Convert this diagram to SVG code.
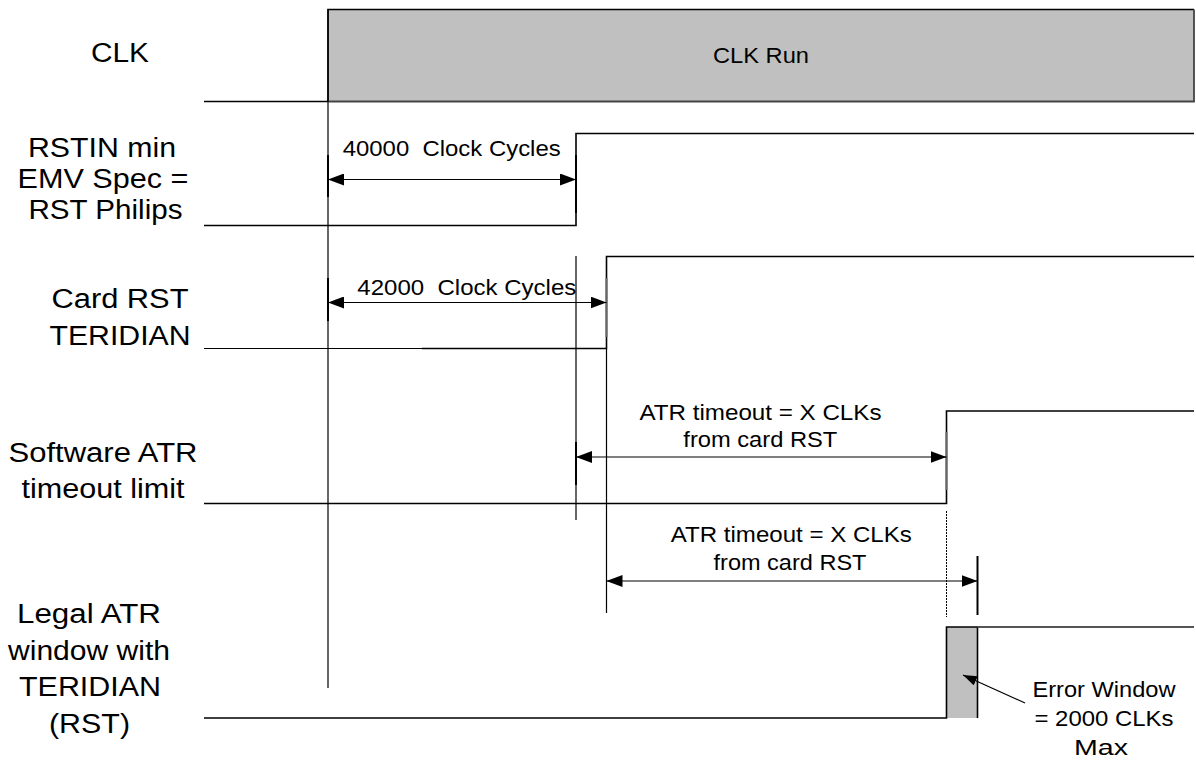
<svg xmlns="http://www.w3.org/2000/svg" width="1196" height="762" viewBox="0 0 1196 762">
  <style>
    .label { font-family: "Liberation Sans", Arial, sans-serif; font-size: 27px; fill: #000; text-anchor: middle; }
    .note { font-family: "Liberation Sans", Arial, sans-serif; font-size: 22px; fill: #000; white-space: pre; }
    .notec { font-family: "Liberation Sans", Arial, sans-serif; font-size: 22px; fill: #000; text-anchor: middle; }
    .sig { fill: none; stroke: #000; stroke-width: 1.6; }
    .guide { fill: none; stroke: #000; stroke-width: 1.2; }
    .tick { fill: none; stroke: #000; stroke-width: 2; }
    .dim { fill: none; stroke: #000; stroke-width: 1.2; marker-start: url(#head); marker-end: url(#head); }
    .busy { fill: #c0c0c0; }
  </style>
  <defs>
    <marker id="head" viewBox="0 0 16 12" markerWidth="16" markerHeight="12" refX="16" refY="6" orient="auto-start-reverse" markerUnits="userSpaceOnUse">
      <path d="M0,0 L16,6 L0,12 z" fill="#000"/>
    </marker>
    <marker id="ptr" viewBox="0 0 14 10" markerWidth="14" markerHeight="10" refX="14" refY="5" orient="auto" markerUnits="userSpaceOnUse">
      <path d="M0,0 L14,5 L0,10 z" fill="#000"/>
    </marker>
  </defs>

  <rect width="1196" height="762" fill="#fff"/>

  <!-- CLK -->
  <g id="clk">
    <text class="label" x="120" y="62" textLength="58" lengthAdjust="spacingAndGlyphs">CLK</text>
    <rect class="busy" x="328" y="9.5" width="866" height="92"/>
    <path d="M328,101.5 V9.5 H1194" stroke="#000" stroke-width="1.6" fill="none"/>
    <path d="M1194,9.5 V101.5 H328" stroke="#444" stroke-width="1.8" fill="none"/>
    <line x1="204" y1="101.5" x2="328" y2="101.5" class="sig"/>
    <text class="notec" x="761" y="63" textLength="96" lengthAdjust="spacingAndGlyphs">CLK Run</text>
  </g>

  <!-- RSTIN -->
  <g id="rstin">
    <text class="label" x="102" y="157" textLength="148" lengthAdjust="spacingAndGlyphs">RSTIN min</text>
    <text class="label" x="103" y="188" textLength="171" lengthAdjust="spacingAndGlyphs">EMV Spec =</text>
    <text class="label" x="105.5" y="219" textLength="154" lengthAdjust="spacingAndGlyphs">RST Philips</text>
    <path class="sig" d="M204,225.5 H576 V133.5 H1194"/>
  </g>

  <!-- Card RST -->
  <g id="card-rst">
    <text class="label" x="120" y="308" textLength="137" lengthAdjust="spacingAndGlyphs">Card RST</text>
    <text class="label" x="120" y="345" textLength="141" lengthAdjust="spacingAndGlyphs">TERIDIAN</text>
    <line x1="204" y1="348.5" x2="422" y2="348.5" stroke="#000" stroke-width="1"/>
    <path class="sig" d="M422,348.5 H606.5 V256.5 H1194"/>
  </g>

  <!-- Software ATR timeout -->
  <g id="sw-atr">
    <text class="label" x="103" y="462" textLength="189" lengthAdjust="spacingAndGlyphs">Software ATR</text>
    <text class="label" x="103" y="498" textLength="163" lengthAdjust="spacingAndGlyphs">timeout limit</text>
    <path class="sig" d="M204,503.5 H946.5 V411 H1194"/>
  </g>

  <!-- Legal ATR window -->
  <g id="legal-atr">
    <text class="label" x="89" y="623" textLength="144" lengthAdjust="spacingAndGlyphs">Legal ATR</text>
    <text class="label" x="89" y="660" textLength="162" lengthAdjust="spacingAndGlyphs">window with</text>
    <text class="label" x="90" y="696" textLength="142" lengthAdjust="spacingAndGlyphs">TERIDIAN</text>
    <text class="label" x="89.5" y="733" textLength="81" lengthAdjust="spacingAndGlyphs">(RST)</text>
    <rect class="busy" x="946.5" y="627" width="31" height="91"/>
    <path class="sig" d="M204,718 H946.5 V627 H977.5 V718"/>
    <line x1="977.5" y1="627" x2="1194" y2="627" stroke="#555" stroke-width="1.8"/>
    <text class="notec" x="1104" y="697" textLength="143" lengthAdjust="spacingAndGlyphs">Error Window</text>
    <text class="notec" x="1104" y="726" textLength="139" lengthAdjust="spacingAndGlyphs">= 2000 CLKs</text>
    <text class="notec" x="1101" y="755" textLength="54" lengthAdjust="spacingAndGlyphs">Max</text>
  </g>

  <!-- timing guides, dimension arrows and pointer -->
  <g id="connectors">
    <!-- reference verticals -->
    <line class="guide" x1="328" y1="9.5" x2="328" y2="688"/>
    <line class="guide" x1="576" y1="256" x2="576" y2="520"/>
    <line class="guide" x1="606.5" y1="348.5" x2="606.5" y2="613"/>
    <line x1="946.5" y1="511" x2="946.5" y2="617" stroke="#000" stroke-width="1" stroke-dasharray="2 1"/>

    <!-- 40000 clock cycles -->
    <line class="tick" x1="328" y1="155" x2="328" y2="197"/>
    <line class="tick" x1="576" y1="155" x2="576" y2="213"/>
    <line class="dim" x1="328" y1="179.5" x2="576" y2="179.5"/>
    <text class="note" x="342.7" y="156" textLength="218" lengthAdjust="spacingAndGlyphs">40000  Clock Cycles</text>

    <!-- 42000 clock cycles -->
    <line class="tick" x1="328" y1="278" x2="328" y2="321"/>
    <line x1="606.5" y1="278" x2="606.5" y2="337" stroke="#666" stroke-width="2"/>
    <line class="dim" x1="328" y1="302.5" x2="606.5" y2="302.5" stroke="#555"/>
    <text class="note" x="357.3" y="295" textLength="219" lengthAdjust="spacingAndGlyphs">42000  Clock Cycles</text>

    <!-- software ATR timeout -->
    <line class="tick" x1="576" y1="442" x2="576" y2="485"/>
    <line x1="946.5" y1="432" x2="946.5" y2="490" stroke="#666" stroke-width="2"/>
    <line class="dim" x1="576" y1="457" x2="946.5" y2="457"/>
    <text class="notec" x="760.5" y="420" textLength="242" lengthAdjust="spacingAndGlyphs">ATR timeout = X CLKs</text>
    <text class="notec" x="760.3" y="447" textLength="154" lengthAdjust="spacingAndGlyphs">from card RST</text>

    <!-- legal ATR timeout -->
    <line class="tick" x1="977.5" y1="556" x2="977.5" y2="615"/>
    <line class="dim" x1="606.5" y1="581" x2="977.5" y2="581"/>
    <text class="notec" x="791.3" y="542" textLength="241" lengthAdjust="spacingAndGlyphs">ATR timeout = X CLKs</text>
    <text class="notec" x="790" y="570" textLength="153" lengthAdjust="spacingAndGlyphs">from card RST</text>

    <!-- error window pointer -->
    <line x1="1025" y1="703" x2="963" y2="675" stroke="#000" stroke-width="1.2" marker-end="url(#ptr)"/>
  </g>
</svg>
